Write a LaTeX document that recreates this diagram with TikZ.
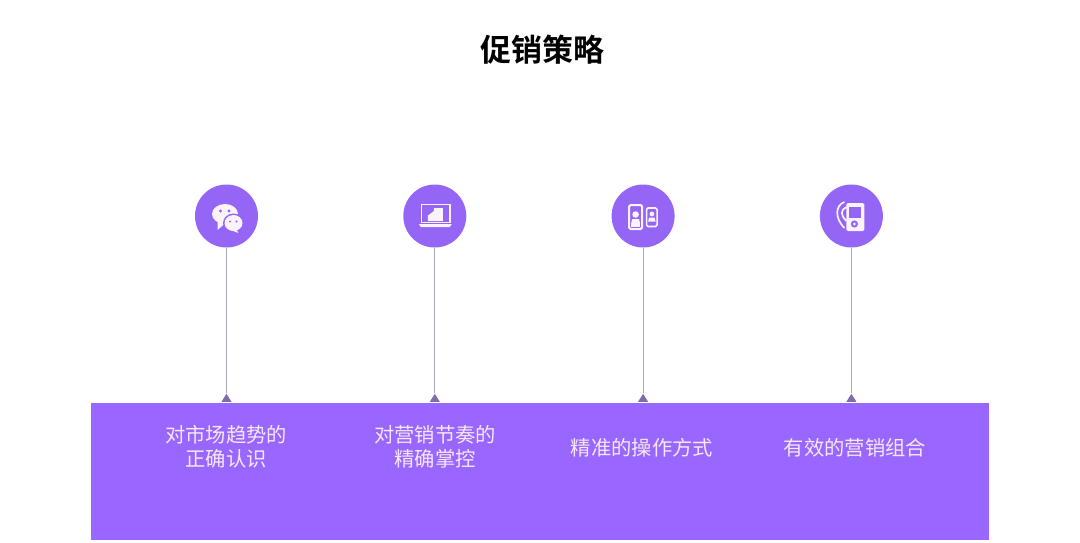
\documentclass[tikz,border=0pt]{standalone}
\usepackage{fontspec}
\setmainfont{Noto Sans CJK SC}
\newfontfamily\titlefont[BoldFont={Noto Sans CJK SC Bold}]{Noto Sans CJK SC}
\usetikzlibrary{shapes.geometric}
\definecolor{barpurple}{HTML}{9966FF}
\definecolor{discpurple}{HTML}{9565F5}
\definecolor{stemgray}{HTML}{ABA8B2}
\definecolor{tipgray}{HTML}{7F6CAE}
\definecolor{labelpink}{HTML}{F6E8F6}
\definecolor{iconwhite}{HTML}{FBF3FB}
\tikzset{
  chat icon/.pic={
    \fill[iconwhite] (-1.5,-2) circle [x radius=13,y radius=10];
    \fill[iconwhite] (-9,5) -- (-9,14) -- (-1,7) -- cycle;
    \fill[discpurple] (-6,-5) circle (1.6) (2.5,-5) circle (1.6);
    \fill[discpurple] (7,7) circle [x radius=10.5,y radius=9.5];
    \fill[iconwhite] (7,7) circle [x radius=9,y radius=8];
    \fill[iconwhite] (9,12) -- (12,17) -- (4,14) -- cycle;
    \fill[discpurple] (3.5,5.5) circle (1.2) (10,5.5) circle (1.2);
  },
  laptop icon/.pic={
    \draw[iconwhite,line width=1.5] (-13.5,-11.5) rectangle (15,6.5);
    \fill[iconwhite] (-16,8) -- (17,8) -- (15,11) -- (-14,11) -- cycle;
    \fill[iconwhite] (-7,5) rectangle (8,-1) (-1,-1) rectangle (8,-8);
    \fill[iconwhite] (-6,-1) -- (-1,-5) -- (-1,-1) -- cycle;
  },
  phones icon/.pic={
    \draw[iconwhite,line width=2,rounded corners=1.5] (-14,-11) rectangle (-1,13);
    \draw[iconwhite,line width=1.6,rounded corners=1.5] (3.5,-8) rectangle (14,10.5);
    \fill[iconwhite] (-7.5,-1.5) circle (3.3) (8.8,-2) circle (2.4);
    \fill[iconwhite] (-12,8) -- (-11,3) -- (-4,3) -- (-3,8) -- cycle;
    \fill[iconwhite] (5,5.5) -- (6,1.5) -- (11.5,1.5) -- (12.5,5.5) -- cycle;
    \fill[iconwhite] (-12,8) rectangle (-3,11);
  },
  player icon/.pic={
    \draw[iconwhite,line width=1.7] (-7,-14) .. controls (-16,-11) and (-17,2) .. (-7,12);
    \draw[iconwhite,line width=1.7] (-5,-9) .. controls (-11,-6) and (-11,-1) .. (-5,5);
    \fill[iconwhite,rounded corners=1.5] (-5,-13) rectangle (13,15);
    \fill[discpurple] (-2,-9) rectangle (10,2);
    \fill[discpurple] (3,8) circle (3.6);
    \fill[iconwhite] (3,8) circle (1.5);
  }
}
\begin{document}
\begin{tikzpicture}[x=1pt,y=-1pt,
                    node distance=208.3pt,
                    disc node/.style={circle,fill=discpurple,inner sep=0pt,minimum size=63pt},
                    tip node/.style={isosceles triangle,isosceles triangle stretches,shape border rotate=90,
                                      fill=tipgray,inner sep=0pt,minimum width=10pt,minimum height=8pt},
                    stem line/.style={draw=stemgray,line width=0.9pt},
                    label node/.style={text=labelpink,font=\fontsize{20.3}{24}\selectfont,align=center,inner sep=0pt}]

  \useasboundingbox (0,0) rectangle (1080,542);

  \node[font=\titlefont\bfseries\fontsize{31}{36}\selectfont,inner sep=0pt] (title) at (542,50) {促销策略};

  \node[fill=barpurple,minimum width=898pt,minimum height=137pt,inner sep=0pt] (bar) at (540,471.5) {};

  \node[disc node] (C1) at (226.5,216) {};
  \node[disc node] (C2) [right of=C1] {};
  \node[disc node] (C3) [right of=C2] {};
  \node[disc node] (C4) [right of=C3] {};

  \node[tip node] (T1) at (226.5,399) {};
  \node[tip node] (T2) [right of=T1] {};
  \node[tip node] (T3) [right of=T2] {};
  \node[tip node] (T4) [right of=T3] {};

  \path[stem line]
    (C1) edge (T1)
    (C2) edge (T2)
    (C3) edge (T3)
    (C4) edge (T4)
;

  \pic at (C1) {chat icon};
  \pic at (C2) {laptop icon};
  \pic at (C3) {phones icon};
  \pic at (C4) {player icon};

  \node[label node] (L1) at (226,447) {对市场趋势的\\正确认识};
  \node[label node] (L2) at (435,447) {对营销节奏的\\精确掌控};
  \node[label node] (L3) at (642,448) {精准的操作方式};
  \node[label node] (L4) at (855,448) {有效的营销组合};
\end{tikzpicture}
\end{document}
